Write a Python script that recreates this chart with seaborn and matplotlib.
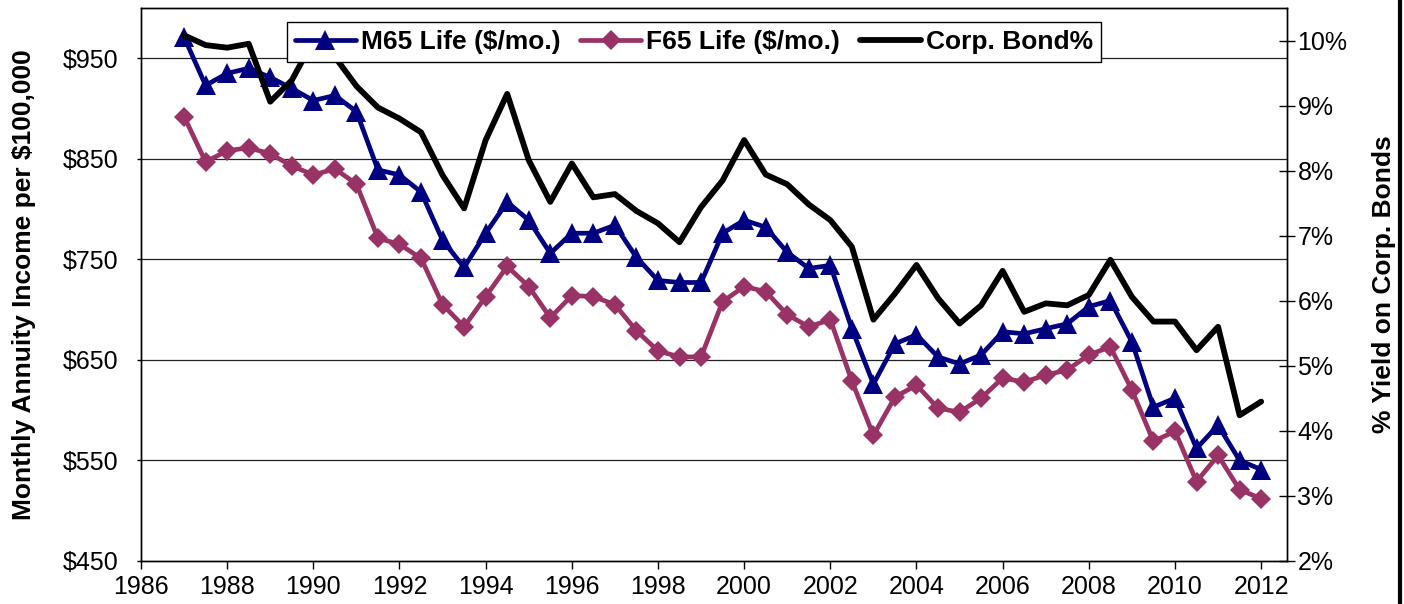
import numpy as np
import pandas as pd
import matplotlib.pyplot as plt
import seaborn as sns
from matplotlib.lines import Line2D

# half-year observations
years = [1987.0, 1987.5, 1988.0, 1988.5, 1989.0, 1989.5, 1990.0, 1990.5, 1991.0, 1991.5,
         1992.0, 1992.5, 1993.0, 1993.5, 1994.0, 1994.5, 1995.0, 1995.5, 1996.0, 1996.5,
         1997.0, 1997.5, 1998.0, 1998.5, 1999.0, 1999.5, 2000.0, 2000.5, 2001.0, 2001.5,
         2002.0, 2002.5, 2003.0, 2003.5, 2004.0, 2004.5, 2005.0, 2005.5, 2006.0, 2006.5,
         2007.0, 2007.5, 2008.0, 2008.5, 2009.0, 2009.5, 2010.0, 2010.5, 2011.0, 2011.5,
         2012.0]

m65 = [971, 923, 935, 940, 931, 920, 908, 913, 897, 839, 834, 817, 769, 742, 776, 807, 789,
       756, 776, 776, 784, 752, 729, 727, 727, 776, 789, 782, 757, 741, 744, 681, 626, 666,
       675, 653, 646, 655, 678, 676, 681, 686, 703, 709, 668, 603, 612, 562, 585, 550, 541]

f65 = [892, 847, 858, 861, 855, 843, 834, 840, 825, 771, 765, 751, 705, 683, 713, 743, 723,
       692, 714, 713, 705, 679, 659, 653, 653, 708, 723, 718, 695, 683, 690, 629, 575, 613,
       625, 602, 598, 612, 632, 628, 635, 640, 655, 663, 620, 569, 579, 529, 555, 521, 512]

bond = [10.08, 9.93, 9.89, 9.95, 9.06, 9.39, 10.0, 9.75, 9.3, 8.97, 8.80, 8.59, 7.93, 7.42, 8.47, 9.18, 8.16,
        7.52, 8.11, 7.59, 7.64, 7.38, 7.19, 6.90, 7.44, 7.85, 8.47, 7.94, 7.79, 7.48, 7.24, 6.83, 5.71, 6.11,
        6.55, 6.04, 5.65, 5.93, 6.46, 5.83, 5.96, 5.93, 6.09, 6.63, 6.06, 5.68, 5.68, 5.24, 5.60, 4.24, 4.45]

x_ticks = [1986, 1988, 1990, 1992, 1994, 1996, 1998, 2000, 2002, 2004, 2006, 2008, 2010, 2012]
left_ticks = [450, 550, 650, 750, 850, 950]
right_ticks = [2, 3, 4, 5, 6, 7, 8, 9, 10]

sns.set_style("white")
plt.rcParams["font.family"] = ["Liberation Sans", "DejaVu Sans"]
plt.rcParams["text.color"] = "black"
plt.rcParams["axes.labelcolor"] = "black"
plt.rcParams["xtick.color"] = "black"
plt.rcParams["ytick.color"] = "black"

df = pd.DataFrame({"year": years, "m65": m65, "f65": f65, "bond": bond})

fig = plt.figure(figsize=(14.04, 6.04), dpi=100)
ax = fig.add_axes([141 / 1404, 43 / 604, 1146 / 1404, 553 / 604])
ax2 = ax.twinx()

navy = "#000080"
plum = "#993366"

sns.lineplot(data=df, x="year", y="m65", ax=ax, color=navy, linewidth=3.4,
             marker="^", markersize=14, markeredgecolor=navy, markeredgewidth=0,
             label="M65 Life ($/mo.)", legend=False)
sns.lineplot(data=df, x="year", y="f65", ax=ax, color=plum, linewidth=3.4,
             marker="D", markersize=10.5, markeredgecolor=plum, markeredgewidth=0,
             label="F65 Life ($/mo.)", legend=False)
sns.lineplot(data=df, x="year", y="bond", ax=ax2, color="black", linewidth=4.2,
             label="Corp. Bond%", legend=False)

ax.set_xlim(1986, 2012.6)
ax.set_ylim(450, 1000)
ax2.set_ylim(2, 10.5)

ax.set_xticks(x_ticks)
ax.set_yticks(left_ticks)
ax.set_yticklabels([f"${v}" for v in left_ticks])
ax2.set_yticks(right_ticks)
ax2.set_yticklabels([f"{v}%" for v in right_ticks])

ax.grid(False)
ax2.grid(False)
for v in left_ticks[1:]:
    ax.axhline(v, color="#222222", linewidth=0.9, zorder=0)

for a in (ax, ax2):
    for s in a.spines.values():
        s.set_color("black")
        s.set_linewidth(1.0)

ax.tick_params(axis="x", direction="out", length=6, width=1, pad=4, labelsize=18, bottom=True,
               colors="black")
ax.tick_params(axis="y", direction="out", length=3, width=1, pad=13, labelsize=18, left=True,
               colors="black")
ax2.tick_params(axis="y", direction="inout", length=11, width=1, pad=2, labelsize=18, right=True,
                colors="black")

ax.set_xlabel("")
ax.set_ylabel("Monthly Annuity Income per $100,000", fontsize=19, fontweight="bold", color="black")
ax2.set_ylabel("% Yield on Corp. Bonds", fontsize=19, fontweight="bold", color="black")
ax.yaxis.set_label_coords(-0.092, 0.5)
ax2.yaxis.set_label_coords(1.074, 0.5)

h1, l1 = ax.get_legend_handles_labels()
h2, l2 = ax2.get_legend_handles_labels()
leg = ax2.legend(h1 + h2, l1 + l2, ncol=3, loc="upper left",
                 bbox_to_anchor=(0.1274, 0.975), borderaxespad=0,
                 prop={"weight": "bold", "size": 19},
                 frameon=True, fancybox=False, framealpha=1, edgecolor="black",
                 handlelength=2.3, handletextpad=0.2, columnspacing=0.75,
                 borderpad=0.3, labelcolor="black")
leg.get_frame().set_linewidth(1.0)

fig.add_artist(Line2D([0.997, 0.997], [0, 1], color="black", linewidth=3))

fig.savefig("out.png", dpi=100)
